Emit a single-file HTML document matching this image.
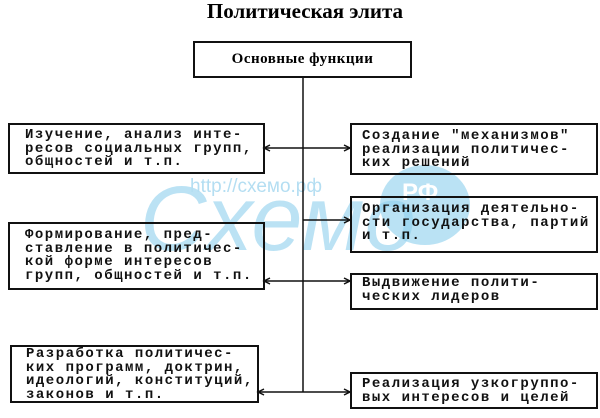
<!DOCTYPE html>
<html><head><meta charset="utf-8"><style>
body{margin:0;width:600px;height:418px;background:#fff;position:relative;overflow:hidden;font-family:"Liberation Serif","DejaVu Serif",serif;}
.b{position:absolute;border:2px solid #111;box-sizing:border-box;}
.tx{position:absolute;font-family:"Liberation Mono","DejaVu Sans Mono",monospace;font-weight:bold;font-size:14px;line-height:13.5px;letter-spacing:1.5px;color:#111;white-space:nowrap;}
.t{position:absolute;left:0;width:610px;text-align:center;top:-1px;font-size:21px;font-weight:bold;}
</style></head><body>
<svg width="600" height="418" style="position:absolute;left:0;top:0">
<ellipse cx="425" cy="205" rx="45" ry="40" fill="#8ccfec" opacity="0.6"/>
<text x="140" y="250" font-size="92" font-style="italic" fill="#8fd0ee" font-family="Liberation Sans,sans-serif" opacity="0.6">Схемо</text>
<text x="190" y="192" font-size="19" fill="#b4def2" font-family="Liberation Sans,sans-serif">http://схемо.рф</text>
<text x="402" y="200" font-size="24" font-weight="bold" fill="#fff" font-family="Liberation Sans,sans-serif">РФ</text>
<g stroke="#111" stroke-width="1.5" fill="none">
<line x1="303" y1="77" x2="303" y2="392"/>
<line x1="264" y1="148" x2="350" y2="148"/>
<line x1="303" y1="220" x2="350" y2="220"/>
<line x1="264" y1="281" x2="350" y2="281"/>
<line x1="258" y1="392" x2="350" y2="392"/>
<path d="M270 145 L264 148 L270 151 M344 145 L350 148 L344 151 M344 217 L350 220 L344 223 M270 278 L264 281 L270 284 M344 278 L350 281 L344 284 M264 389 L258 392 L264 395 M344 389 L350 392 L344 395"/>
</g></svg>
<div class="t">Политическая элита</div>
<div class="b" style="left:193px;top:41px;width:219px;height:37px"></div>
<div style="position:absolute;left:193px;top:51px;width:219px;text-align:center;font-weight:bold;font-size:15px;letter-spacing:0.5px">Основные функции</div>

<div class="b" style="left:8px;top:123px;width:257px;height:51px"></div>
<div class="tx" style="left:25px;top:129px">Изучение, анализ инте-<br>ресов социальных групп,<br>общностей и т.п.</div>

<div class="b" style="left:350px;top:123px;width:248px;height:52px"></div>
<div class="tx" style="left:362px;top:130px">Создание "механизмов"<br>реализации политичес-<br>ких решений</div>

<div class="b" style="left:350px;top:196px;width:248px;height:57px"></div>
<div class="tx" style="left:362px;top:203px">Организация деятельно-<br>сти государства, партий<br>и т.п.</div>

<div class="b" style="left:8px;top:222px;width:257px;height:68px"></div>
<div class="tx" style="left:25px;top:229px">Формирование, пред-<br>ставление в политичес-<br>кой форме интересов<br>групп, общностей и т.п.</div>

<div class="b" style="left:350px;top:273px;width:248px;height:37px"></div>
<div class="tx" style="left:362px;top:277px">Выдвижение полити-<br>ческих лидеров</div>

<div class="b" style="left:10px;top:345px;width:249px;height:58px"></div>
<div class="tx" style="left:26px;top:348px">Разработка политичес-<br>ких программ, доктрин,<br>идеологий, конституций,<br>законов и т.п.</div>

<div class="b" style="left:350px;top:372px;width:248px;height:37px"></div>
<div class="tx" style="left:362px;top:378px">Реализация узкогруппо-<br>вых интересов и целей</div>
</body></html>
